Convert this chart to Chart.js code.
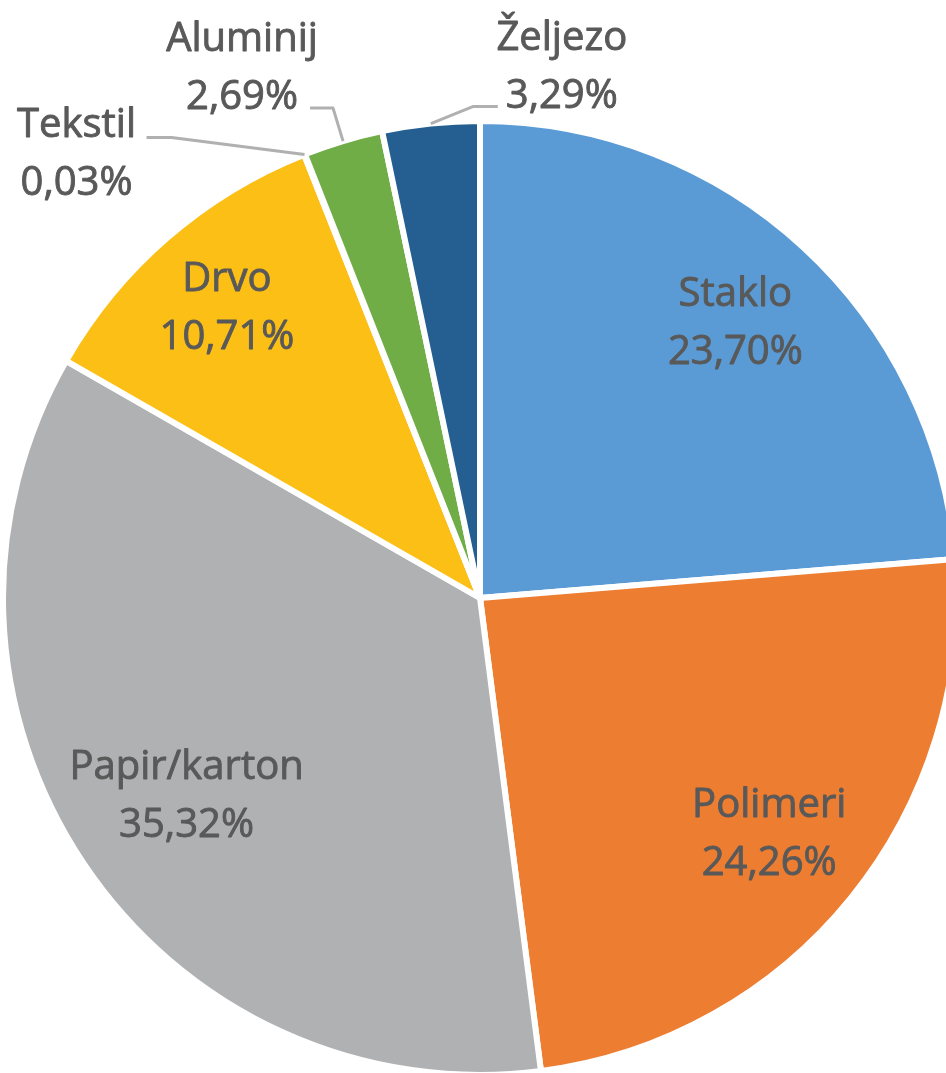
<!DOCTYPE html>
<html>
<head>
<meta charset="utf-8">
<script src="https://cdn.jsdelivr.net/npm/chart.js@4"></script>
<style>
    html, body { margin: 0; padding: 0; background: #fff; overflow: hidden; }
    #wrap { position: absolute; left: 0; top: 0; }
</style>
</head>
<body>
<div id="wrap"><canvas id="pieChart" width="960" height="1196"></canvas></div>
<script>
"use strict";

// data
const categories = ["Staklo", "Polimeri", "Papir/karton", "Drvo", "Tekstil", "Aluminij", "Željezo"];
const shares = [23.70, 24.26, 35.32, 10.71, 0.03, 2.69, 3.29];

// colours, same order as categories
const sliceColors = ["#5b9bd5", "#ed7d31", "#b0b1b3", "#fbbf16", "#4472c4", "#70ad47", "#255e91"];

// where each label goes: inside = fraction of radius, outside = offsets from the arc edge
const labelPlacement = [
    { r: 0.79 },
    { r: 0.78 },
    { r: 0.74 },
    { r: 0.81 },
    { text: [-228, -2], elbow: [-133, -17], end: [-158, -17] },
    { text: [-101, -75], elbow: [-10, -33], end: [-33, -33] },
    { text: [131, -59], elbow: [42, -17], end: [67, -17] }
];

function formatShare(v) {
    return v.toFixed(2).replace(".", ",") + "%";
}

// two-line data labels + leader lines for the small slices
const pieLabels = {
    id: "pieLabels",
    afterDatasetsDraw(chart) {
        const ctx = chart.ctx;
        const meta = chart.getDatasetMeta(0);
        ctx.save();
        ctx.font = "40px 'Open Sans'";
        ctx.textAlign = "center";
        ctx.textBaseline = "alphabetic";
        meta.data.forEach((arc, i) => {
            const p = arc.getProps(["x", "y", "startAngle", "endAngle", "outerRadius"], true);
            const mid = (p.startAngle + p.endAngle) / 2;
            const place = labelPlacement[i];
            let cx, cy;
            if (place.r) {
                cx = p.x + Math.cos(mid) * p.outerRadius * place.r;
                cy = p.y + Math.sin(mid) * p.outerRadius * place.r;
            } else {
                const ex = p.x + Math.cos(mid) * p.outerRadius;
                const ey = p.y + Math.sin(mid) * p.outerRadius;
                cx = ex + place.text[0];
                cy = ey + place.text[1];
                ctx.strokeStyle = "#b0b0b0";
                ctx.lineWidth = 3;
                ctx.beginPath();
                ctx.moveTo(ex, ey);
                ctx.lineTo(ex + place.elbow[0], ey + place.elbow[1]);
                ctx.lineTo(ex + place.end[0], ey + place.end[1]);
                ctx.stroke();
            }
            ctx.fillStyle = "#595959";
            ctx.strokeStyle = "#595959";
            ctx.lineWidth = 0.9;
            ctx.lineJoin = "round";
            [[categories[i], cy - 15], [formatShare(shares[i]), cy + 43]].forEach(([t, y]) => {
                ctx.fillText(t, cx, y);
                ctx.strokeText(t, cx, y);
            });
        });
        ctx.restore();
    }
};

const ctx = document.getElementById("pieChart");
new Chart(ctx, {
    type: "pie",
    data: {
        labels: categories,
        datasets: [{
            data: shares,
            backgroundColor: sliceColors,
            borderColor: "#ffffff",
            borderWidth: 6,
            radius: 477
        }]
    },
    options: {
        responsive: false,
        animation: false,
        devicePixelRatio: 1,
        layout: { padding: 0 },
        plugins: {
            legend: { display: false },
            tooltip: { enabled: false }
        }
    },
    plugins: [pieLabels]
});
</script>
</body>
</html>
